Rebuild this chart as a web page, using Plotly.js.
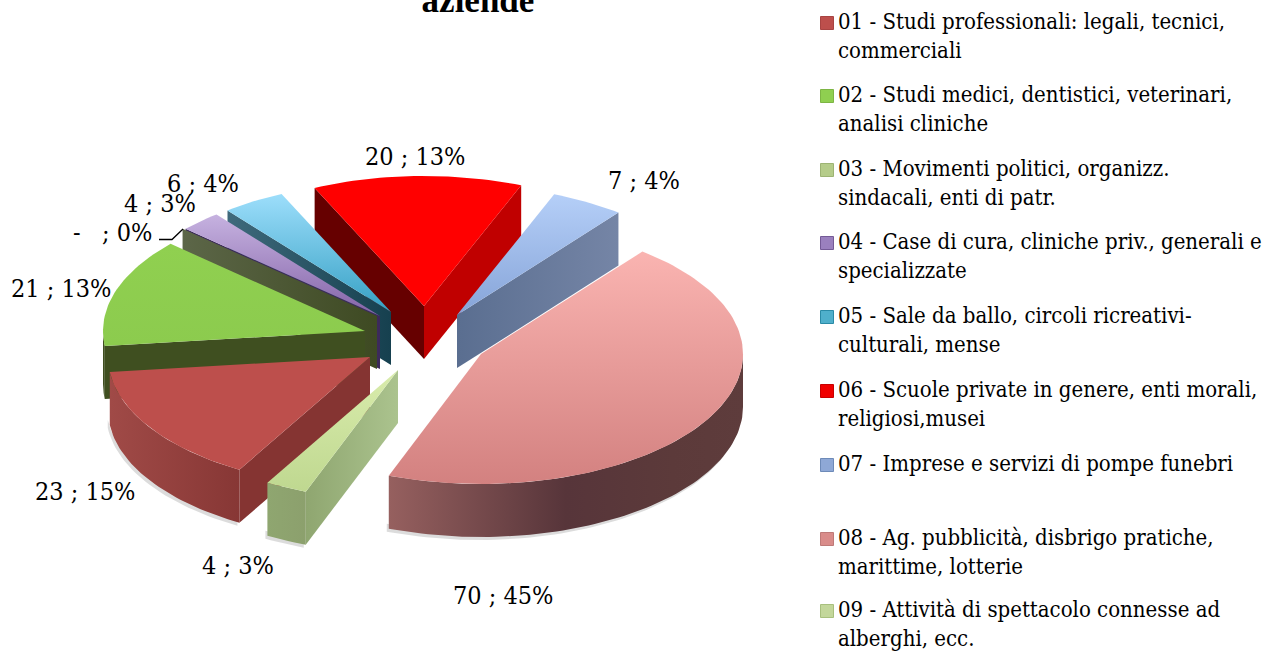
<!DOCTYPE html>
<html>
<head>
<meta charset="utf-8">
<script src="https://cdn.plot.ly/plotly-3.0.1.min.js"></script>
<style>html,body{margin:0;padding:0;background:#fff;overflow:hidden}#chart{width:1262px;height:652px}</style>
</head>
<body>
<div id="chart"></div>
<script>
// ---- data ----
const categories = [
  '01 - Studi professionali: legali, tecnici,<br>commerciali',
  '02 - Studi medici, dentistici, veterinari,<br>analisi cliniche',
  '03 - Movimenti politici, organizz.<br>sindacali, enti di patr.',
  '04 - Case di cura, cliniche priv., generali e<br>specializzate',
  '05 - Sale da ballo, circoli ricreativi-<br>culturali, mense',
  '06 - Scuole private in genere, enti morali,<br>religiosi,musei',
  '07 - Imprese e servizi di pompe funebri',
  '08 - Ag. pubblicità, disbrigo pratiche,<br>marittime, lotterie',
  '09 - Attività di spettacolo connesse ad<br>alberghi, ecc.'
];
const values = [23, 21, 0, 4, 6, 20, 7, 70, 4];
const valueLabels = ['23', '21', '-  ', '4', '6', '20', '7', '70', '4'];
const shareLabels = ['15%', '13%', '0%', '3%', '4%', '13%', '4%', '45%', '3%'];

// ---- projection and styling of the tilted, exploded pie ----
const FIRST_ANGLE = 209.9, RX = 262, RY = 130, DEPTH = 53;
const apexX = [370, 365, 377, 380, 391, 424, 457, 481, 398];
const apexY = [357, 331, 316, 316, 312, 306, 315, 354, 370];
const drawOrder = [5, 6, 4, 3, 2, 1, 7, 0, 8];
const shadowed = [0, 7, 8];
const labelX = [85, 61, 154, 160, 203, 414.5, 643.5, 503, 238];
const labelY = [491, 288, 232, 203, 183, 156, 180, 595, 565];
const legendY = [23, 96, 170, 243, 317, 391, 465, 539, 611];
const topFill = [
  ['#BD4F4C', '#BD4F4C'], ['#8CCB4E', '#90D050'], ['#A0C070', '#C0D89A'],
  ['#8463A8', '#C6B2E0'], ['#35A0C4', '#9DDEFB'], ['#FF0000', '#FF0000'],
  ['#86A4D8', '#B5CFF8'], ['#D38180', '#FAB4B1'], ['#BFD890', '#D9ECAC']
];
const startFace = [
  ['#853432', '#853432'], ['#3F4F20', '#3F4F20'], ['#5C6648', '#3E4A22'],
  ['#3C2A5A', '#3C2A5A'], ['#3F6A7C', '#16404F'], ['#660000', '#660000'],
  ['#5A6E90', '#7585A6'], ['#555', '#555'], ['#8FA670', '#ABC38E']
];
const endFace = [
  ['#853432', '#853432'], ['#3F4F20', '#3F4F20'], ['#555', '#555'],
  ['#3C2A5A', '#3C2A5A'], ['#16404F', '#16404F'], ['#C00000', '#C00000'],
  ['#5A6E90', '#7585A6'], ['#5A3A3A', '#5A3A3A'], ['#ABC38E', '#ABC38E']
];
const wallStops = [
  [[0, '#A04A47'], [1, '#873735']],
  [[0, '#3F4F20'], [1, '#3F4F20']],
  [[0, '#555'], [1, '#555']],
  [[0, '#3C2A5A'], [1, '#3C2A5A']],
  [[0, '#16404F'], [1, '#16404F']],
  [[0, '#660000'], [1, '#C00000']],
  [[0, '#5A6E90'], [1, '#7585A6']],
  [[0, '#96605F'], [0.5, '#57353A'], [0.8, '#5C3A3A'], [1, '#5E3C3C']],
  [[0, '#8FA670'], [1, '#8CA06D']]
];
const legendColors = ['#BD4F4C', '#8FCF50', '#B5CC8A', '#9A80BE', '#4FAFCB', '#F00000', '#8EA8D6', '#D98C8A', '#C3D79B'];
const legendEdge = ['#A84442', '#7DB544', '#9DB474', '#745A96', '#2A8AA6', '#C80000', '#6D8AB8', '#BE7A78', '#A8C07E'];
const LEADER_FROM = 2; // the zero slice gets a leader line to its label

const total = values.reduce((a, b) => a + b, 0);
const rad = d => d * Math.PI / 180;
const traces = [];

function px(i, a) { return apexX[i] + RX * Math.sin(rad(a)); }
function py(i, a) { return apexY[i] - RY * Math.cos(rad(a)); }

function poly(xs, ys, type, colorscale) {
  traces.push({
    type: 'scatter', mode: 'lines', x: xs, y: ys, fill: 'toself',
    line: { width: 0 }, hoverinfo: 'skip', showlegend: false,
    fillcolor: colorscale[0][1],
    fillgradient: { type, colorscale }
  });
}

// slice angle spans follow from the values
let cursor = FIRST_ANGLE;
const spans = values.map(v => { const a0 = cursor; cursor += v / total * 360; return [a0, cursor]; });

function arcAngles(a0, a1) {
  const out = [];
  const n = Math.max(2, Math.ceil((a1 - a0) / 1.5));
  for (let k = 0; k <= n; k++) out.push(a0 + (a1 - a0) * k / n);
  return out;
}

function radialFace(i, a, stops) {
  const ax = apexX[i], ay = apexY[i], ex = px(i, a), ey = py(i, a);
  poly([ax, ex, ex, ax, ax], [ay, ey, ey + DEPTH, ay + DEPTH, ay], 'horizontal',
    [[0, stops[0]], [1, stops[1]]]);
}

const norm = a => ((a % 360) + 360) % 360;
drawOrder.forEach(i => {
  const [a0, a1] = spans[i];
  const from = Math.max(norm(a0), 90), to = Math.min(norm(a0) + (a1 - a0), 270);
  // soft ground shadow under the near rim
  if (shadowed.includes(i) && to > from) {
    const arc = arcAngles(from, to);
    const xs = arc.map(a => px(i, a) - 2), ys = arc.map(a => py(i, a) + DEPTH + 3);
    poly(xs.concat(xs.slice().reverse(), xs[0]),
      ys.concat(ys.slice().reverse().map(y => y - 8), ys[0]),
      'horizontal', [[0, '#DCDCDC'], [1, '#DCDCDC']]);
  }
  // cut faces turned toward the viewer
  if (Math.cos(rad(a0 - 90)) < 0) radialFace(i, a0, startFace[i]);
  if (values[i] > 0 && Math.cos(rad(a1 + 90)) < 0) radialFace(i, a1, endFace[i]);
  if (values[i] === 0) return;
  // outer rim: the part of the arc on the near side
  if (to > from) {
    const arc = arcAngles(from, to);
    const xs = arc.map(a => px(i, a)), ys = arc.map(a => py(i, a));
    poly(xs.concat(xs.slice().reverse(), xs[0]),
      ys.concat(ys.slice().reverse().map(y => y + DEPTH), ys[0]),
      'horizontal', wallStops[i]);
  }
  // top surface
  const arc = arcAngles(a0, a1);
  poly([apexX[i]].concat(arc.map(a => px(i, a)), apexX[i]),
    [apexY[i]].concat(arc.map(a => py(i, a)), apexY[i]),
    'vertical', [[0, topFill[i][0]], [1, topFill[i][1]]]);
});

// leader line of the zero slice
traces.push({
  type: 'scatter', mode: 'lines', x: [159, 172, 183], y: [239.5, 239.5, 229],
  line: { color: '#000', width: 1.3 }, hoverinfo: 'skip', showlegend: false
});

// legend keys
categories.forEach((name, i) => traces.push({
  type: 'scatter', mode: 'markers', x: [827], y: [legendY[i]],
  name: name.replace('<br>', ' '), hoverinfo: 'skip', showlegend: false,
  marker: { symbol: 'square', size: 13, color: legendColors[i], line: { width: 1, color: legendEdge[i] } }
}));

const serif = '"DejaVu Serif Condensed", "DejaVu Serif", serif';
const annotations = values.map((v, i) => ({
  x: labelX[i], y: labelY[i], xref: 'x', yref: 'y', showarrow: false,
  xanchor: i === LEADER_FROM ? 'right' : 'center', yanchor: 'middle',
  text: valueLabels[i] + ' ; ' + shareLabels[i],
  font: { family: serif, size: 25, color: '#000' }
})).concat(categories.map((name, i) => ({
  x: 837, y: legendY[i] - 15, xref: 'x', yref: 'y', showarrow: false,
  xanchor: 'left', yanchor: 'top', align: 'left', borderpad: 0,
  text: name,
  font: { family: serif, size: 22, color: '#000' }
})));

Plotly.newPlot('chart', traces, {
  width: 1262, height: 652,
  margin: { l: 0, r: 0, t: 0, b: 0 },
  paper_bgcolor: '#fff', plot_bgcolor: 'rgba(0,0,0,0)',
  title: {
    text: '<b>aziende</b>', x: 478 / 1262, xanchor: 'center', y: 1, yanchor: 'middle',
    font: { family: 'Liberation Serif, serif', size: 35, color: '#000' }
  },
  xaxis: { range: [0, 1262], visible: false, fixedrange: true },
  yaxis: { range: [652, 0], visible: false, fixedrange: true },
  showlegend: false,
  annotations
}, { displayModeBar: false });
</script>
</body>
</html>
